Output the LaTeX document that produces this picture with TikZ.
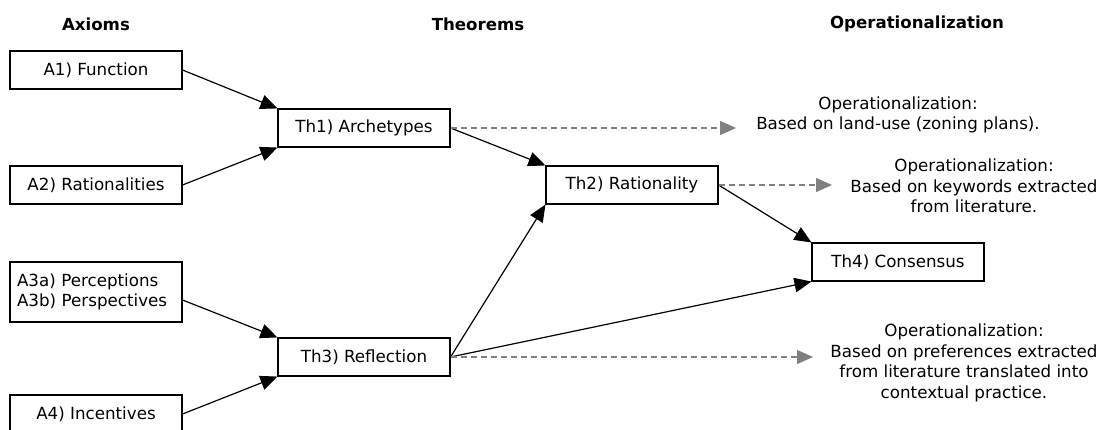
\documentclass[tikz,border=0pt]{standalone}
\usepackage{fontspec}
\setmainfont{DejaVu Sans}
\usetikzlibrary{arrows.meta,positioning}
\tikzset{
  box/.style={draw=black, line width=1.1pt, minimum width=172pt, minimum height=38pt, inner sep=0pt, font=\fontsize{16.7}{20.5}\selectfont},
  hdr/.style={font=\fontsize{16.6}{20}\selectfont\bfseries},
  optext/.style={align=center, font=\fontsize{16.7}{20.5}\selectfont, inner sep=0pt},
  conn/.style={draw=black, line width=1.2pt, -{Triangle[length=17pt,width=14.5pt]}},
  opconn/.style={draw=black!50, line width=1.2pt, dash pattern=on 6pt off 4pt, -{Triangle[length=16pt,width=14pt]}, color=black!50}
}
\begin{document}
\begin{tikzpicture}[x=1pt,y=-1pt]
\useasboundingbox (0,0) rectangle (1100,430);
\clip (0,0) rectangle (1100,430);
% headers
\node[hdr] (hA) at (96,24) {Axioms};
\node[hdr] (hT) at (478,24) {Theorems};
\node[hdr] (hO) at (917,24) {Operationalization};
% axioms
\node[box] (A1) at (96,70) {A1) Function};
\node[box] (A2) at (96,185) {A2) Rationalities};
\node[box, minimum height=60pt, align=left, text width=158pt, inner xsep=7pt] (A3) at (96,292) {A3a) Perceptions\\A3b) Perspectives};
\node[box] (A4) at (96,414) {A4) Incentives};
% theorems
\node[box] (T1) at (364,128) {Th1) Archetypes};
\node[box] (T3) at (364,357) {Th3) Reflection};
\node[box] (T2) at (632,185) {Th2) Rationality};
\node[box] (T4) at (898,262) {Th4) Consensus};
% operationalization texts
\node[optext] (O1) at (898,115) {Operationalization:\\Based on land-use (zoning plans).};
\node[optext] (O2) at (974,186) {Operationalization:\\Based on keywords extracted\\from literature.};
\node[optext] (O3) at (964,363) {Operationalization:\\Based on preferences extracted\\from literature translated into\\contextual practice.};
\coordinate (e1) at (736,128);
\coordinate (e2) at (832,185);
\coordinate (e3) at (813,357);
% connectors
\draw[conn] (A1.east) -- (T1.north west);
\draw[conn] (A2.east) -- (T1.south west);
\draw[conn] ([yshift=-8pt]A3.east) -- (T3.north west);
\draw[conn] (A4.east) -- (T3.south west);
\draw[conn] (T1.east) -- (T2.north west);
\draw[conn] (T3.east) -- (T2.south west);
\draw[conn] (T3.east) -- (T4.south west);
\draw[conn] (T2.east) -- (T4.north west);
\draw[opconn] (T1.east) -- (e1);
\draw[opconn] (T2.east) -- (e2);
\draw[opconn] (T3.east) -- (e3);
\end{tikzpicture}
\end{document}
